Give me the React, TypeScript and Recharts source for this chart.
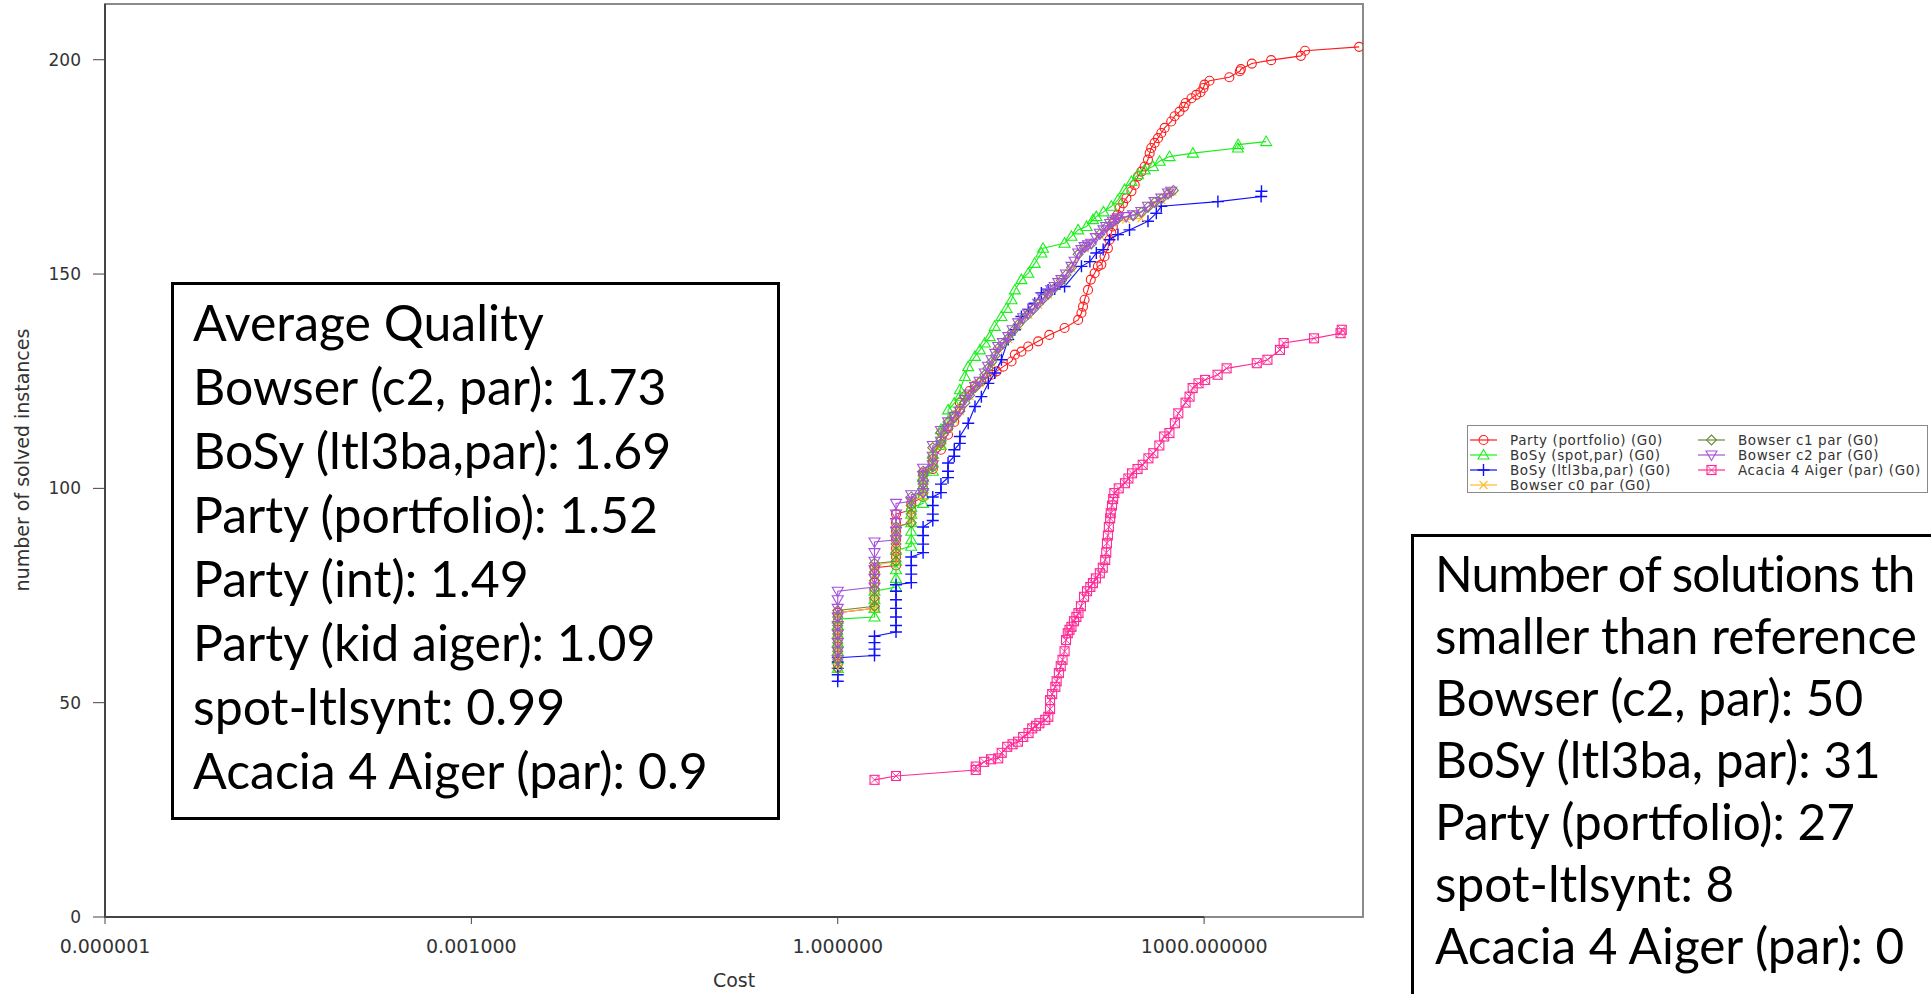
import React from 'react';
import { ScatterChart, Scatter, XAxis, YAxis, ReferenceArea, ReferenceLine } from 'recharts';

type Pt = [number, number];

// [cost, number of solved instances]
const partyPortfolio: Pt[] = [
  [1, 59], [1, 61], [1, 63], [1, 65], [1, 67], [1, 69], [1, 71],
  [2, 72], [2, 74], [2, 76], [2, 78], [2, 80], [2, 81.5],
  [3, 82], [3, 84], [3, 86], [3, 88], [3, 90], [3, 92], [3, 94],
  [4, 95], [4, 96.5], [5, 98], [5, 100], [5, 102], [5, 103.5],
  [6, 104.5], [6, 106], [6, 107.5], [7, 109], [7, 111], [8, 112.5], [8, 114],
  [9, 115.5], [9, 117], [10, 118.5], [10, 120], [11, 121.5], [12, 122.7], [13.3, 124],
  [15, 125], [16.5, 125.8], [18.2, 126.5], [20, 127.3], [22.6, 128.4], [26.5, 129.6],
  [28.2, 131.2], [31.9, 131.9], [36.3, 133.1], [43.8, 134.3], [54, 135.8], [72, 137.4],
  [93, 139.3], [99, 140.9], [102, 142.4], [105, 144], [112, 146.3], [118, 148.7],
  [127, 150.2], [135, 151.8], [144, 152.2], [153, 154.1], [163, 156], [168, 158],
  [174, 159.6], [179, 161.1], [185, 162.7], [195, 163.8], [203, 165.4], [217, 166.5],
  [231, 167.7], [254, 169.3], [270, 170.8], [288, 172.8], [306, 173.9], [326, 175.1],
  [347, 176.7], [358, 178.2], [369, 179.4], [393, 180.6], [419, 181.7], [446, 182.9],
  [475, 184.1], [538, 185.6], [573, 186.8], [629, 187.9], [684, 189], [705, 189.9],
  [788, 191], [861, 191.8], [934, 192.4], [988, 193.4], [1007, 194.2], [1107, 195.1],
  [1610, 195.9], [1960, 197.3], [2000, 197.8], [2460, 199.1], [3540, 199.9],
  [6200, 200.9], [6700, 202.1], [18600, 203],
];

const bosySpot: Pt[] = [
  [1, 58], [1, 60], [1, 62], [1, 64], [1, 66], [1, 68], [1, 69.5],
  [2, 70], [2, 72], [2, 74], [2, 76],
  [3, 77], [3, 79], [3, 81], [3, 83], [3, 85.5],
  [4, 86.5], [4, 88], [4, 90], [4, 92], [4, 94], [4, 95.5],
  [5, 96.5], [5, 98.5], [5, 100.5], [5, 102.5], [6, 104], [6, 106], [6, 108],
  [7, 110], [7, 112], [7, 113.7], [8, 115.5], [8, 118.3], [9, 119.9], [10, 121.5], [10, 123],
  [11, 126.1], [11.7, 128.4], [13.3, 130.8], [14.6, 132.3], [16, 133.9], [17.6, 135.4],
  [19.3, 137.8], [21.9, 140.1], [24.1, 142], [26.5, 144], [28.2, 146.3], [31.9, 148.7],
  [36.3, 150.2], [41, 152.5], [46.5, 154.9], [48, 156], [72, 157.2], [82, 158.8],
  [93, 160.3], [109, 161.1], [123, 162.7], [131, 163.4], [150, 164.5], [174, 165.8],
  [197, 167.3], [223, 169.7], [254, 171.6], [288, 173.2], [326, 174.3], [381, 175.1],
  [432, 176.3], [521, 177.4], [809, 178.2], [1890, 179.4], [1900, 180.2], [3220, 180.9],
];

const bosyLtl3ba: Pt[] = [
  [1, 55], [1, 56.5], [1, 58], [1, 59.5], [1, 60.5],
  [2, 61], [2, 62.5], [2, 64], [2, 65.5],
  [3, 66.5], [3, 68], [3, 70], [3, 72], [3, 74], [3, 76], [3, 77.5],
  [4, 78], [4, 80], [4, 82], [4, 84], [5, 85], [5, 87], [5, 89], [5, 91],
  [6, 92.5], [6, 94], [6, 96], [6, 98], [7, 99], [7, 101], [8, 102.5], [8, 104], [8, 105.9],
  [9, 107.5], [9, 109], [10, 110.5], [10, 112.1], [11.7, 115.2], [13.3, 119.1], [15, 121.4],
  [17.1, 124.5], [19.3, 126.9], [21.9, 130], [24.9, 134.7], [28.2, 137], [31.9, 140.1],
  [36.3, 141.7], [41, 143.2], [46.5, 145.6], [52.8, 146.3], [59.8, 146.5], [72, 147.1],
  [99, 151.8], [116, 152.9], [131, 154.9], [149, 155.7], [168, 158], [197, 159.2],
  [245, 160.3], [347, 162.3], [406, 164.2], [446, 165.8], [1297, 166.9], [2930, 168.1],
  [2950, 169.3],
];

const bowserC0: Pt[] = [
  [1, 58], [1, 60], [1, 62], [1, 64], [1, 66], [1, 68], [1, 70], [1, 71],
  [2, 72], [2, 74], [2, 76], [2, 78], [2, 80], [2, 82],
  [3, 83], [3, 85], [3, 87], [3, 89], [3, 91], [4, 92], [4, 94], [4, 97],
  [5, 98], [5, 100], [5, 102], [5, 104], [6, 105], [6, 107], [6, 109], [7, 110], [7, 113],
  [8, 114], [8, 115], [9, 116], [10, 118], [12, 121.5], [14.5, 124.5], [18.2, 129.3],
  [20.6, 132.5], [24.9, 134.8], [30, 138], [36.3, 140.5], [43.8, 142.8], [52.8, 145.2],
  [67.9, 148.3], [82, 151.3], [105, 156], [140, 159.1], [179, 161.9], [230, 162.7],
  [306, 163], [393, 166.5], [446, 167.3], [506, 168.5], [550, 169.3],
];

const bowserC1: Pt[] = [
  [1, 58], [1, 60], [1, 62], [1, 64], [1, 66], [1, 68], [1, 70], [1, 71.5],
  [2, 72.5], [2, 74.5], [2, 76.5], [2, 78.5], [2, 80.5], [2, 82.5],
  [3, 83], [3, 85], [3, 87], [3, 89], [3, 91], [4, 92], [4, 94], [4, 96], [4, 98],
  [5, 99], [5, 101], [5, 103], [5, 104], [6, 105], [6, 107], [6, 109.5], [7, 110.5], [7, 113],
  [8, 114], [8, 115.5], [9, 116.5], [10, 118], [11, 120], [12, 121.7], [13.3, 123.5],
  [14.5, 124.7], [16, 126.5], [17, 128], [18.2, 129.5], [19.5, 131], [20.6, 132.7],
  [22.5, 133.7], [24.9, 135], [27, 136.6], [30, 138.2], [33, 139.5], [36.3, 140.6],
  [40, 141.8], [43.8, 143], [48, 144.2], [52.8, 145.3], [59.8, 146.8], [67.9, 148.5],
  [74, 149.8], [82, 151.5], [93, 154.6], [105, 156.2], [119, 157], [140, 159.3],
  [158, 160.9], [179, 162.1], [197, 162.9], [262, 163.6], [306, 164.4], [347, 165.6],
  [393, 166.7], [446, 167.5], [506, 168.7], [560, 169.5],
];

const bowserC2: Pt[] = [
  [1, 60], [1, 62], [1, 64], [1, 66], [1, 68], [1, 70], [1, 72], [1, 74], [1, 76],
  [2, 77], [2, 79], [2, 81], [2, 83], [2, 85], [2, 87.5],
  [3, 88], [3, 90], [3, 92], [3, 94], [3, 96.5], [4, 97], [4, 98.5],
  [5, 99], [5, 101], [5, 103], [5, 104.7], [6, 105.5], [6, 107.5], [6, 110],
  [7, 111], [7, 113.5], [8, 114], [8, 115.5], [9, 116.8], [10, 118], [11, 120.7],
  [12, 122], [13.3, 123.8], [14.5, 125], [16, 126.9], [17, 128.5], [18.2, 130],
  [19.5, 131.5], [20.6, 133.1], [22.5, 134], [24.9, 135.4], [27, 137], [30, 138.6],
  [33, 139.8], [36.3, 140.9], [40, 142], [43.8, 143.2], [48, 144.4], [52.8, 145.6],
  [56, 146.3], [59.8, 147.1], [64, 148], [67.9, 148.7], [74, 150], [82, 151.8],
  [87, 153], [93, 154.9], [99, 155.7], [105, 156.4], [112, 156.8], [119, 157.2],
  [130, 158.5], [140, 159.5], [150, 160.3], [158, 161.1], [170, 161.8], [179, 162.3],
  [190, 162.8], [197, 163.1], [230, 163.4], [262, 163.8], [306, 164.6], [347, 165.8],
  [393, 166.9], [446, 167.7], [506, 168.9], [538, 169.3],
];

const acaciaAiger: Pt[] = [
  [2, 32], [3, 32.9], [13.5, 34.3], [13.5, 35.1], [15.8, 36.2], [18, 36.8], [20.6, 37],
  [22, 38.3], [24.4, 39.7], [27, 40.3], [29.9, 40.9], [33, 42], [36.5, 42.9], [39.1, 44],
  [42, 44.6], [44.8, 45.2], [50, 46], [53, 46.7], [54.8, 48.5], [54.8, 50.6], [57, 52],
  [60.5, 53.7], [62, 55], [64.7, 56.9], [67, 58.5], [69.3, 60], [72, 62], [74, 64.6],
  [76.5, 66.2], [79, 67], [82, 67.7], [86, 69], [90, 70], [93.6, 70.9], [98, 72.5],
  [104, 74.7], [110, 76], [117, 77], [123, 77.9], [130, 79], [140, 80.2], [148, 81.5],
  [155, 83.3], [158, 85], [160, 87.2], [163, 89], [166, 91], [170, 93], [172, 94.2],
  [176, 96], [180, 97.5], [184, 98.9], [200, 100], [225, 101.2], [240, 102.3],
  [257, 103.5], [285, 104.5], [314, 105.5], [350, 107], [384, 108.2], [430, 110],
  [471, 112.1], [520, 112.9], [576, 115.2], [615, 117.5], [705, 120], [760, 121.4],
  [806, 123.4], [900, 124.5], [1019, 125.3], [1289, 126.5], [1528, 128], [2700, 129.2],
  [3300, 130], [4180, 132.3], [4480, 133.9], [7940, 135], [13100, 136.2], [13400, 137],
];

const xTicks = [0.000001, 0.001, 1, 1000];
const yTicks = [0, 50, 100, 150, 200];

const qualityLines = [
  'Average Quality',
  'Bowser (c2, par): 1.73',
  'BoSy (ltl3ba,par): 1.69',
  'Party (portfolio): 1.52',
  'Party (int): 1.49',
  'Party (kid aiger): 1.09',
  'spot-ltlsynt: 0.99',
  'Acacia 4 Aiger (par): 0.9',
];

const smallerLines = [
  'Number of solutions th',
  'smaller than reference',
  'Bowser (c2, par): 50',
  'BoSy (ltl3ba, par): 31',
  'Party (portfolio): 27',
  'spot-ltlsynt: 8',
  'Acacia 4 Aiger (par): 0',
];

type Kind = 'circle' | 'triangle' | 'plus' | 'cross' | 'diamond' | 'down' | 'boxx';

const series: { name: string; color: string; kind: Kind; data: Pt[] }[] = [
  { name: 'Party (portfolio) (G0)', color: '#ff1a1a', kind: 'circle', data: partyPortfolio },
  { name: 'BoSy (spot,par) (G0)', color: '#19f019', kind: 'triangle', data: bosySpot },
  { name: 'BoSy (ltl3ba,par) (G0)', color: '#1010ff', kind: 'plus', data: bosyLtl3ba },
  { name: 'Bowser c0 par (G0)', color: '#ffb92e', kind: 'cross', data: bowserC0 },
  { name: 'Bowser c1 par (G0)', color: '#6f8a3a', kind: 'diamond', data: bowserC1 },
  { name: 'Bowser c2 par (G0)', color: '#a550dd', kind: 'down', data: bowserC2 },
  { name: 'Acacia 4 Aiger (par) (G0)', color: '#ff2a95', kind: 'boxx', data: acaciaAiger },
];

function marker(kind: Kind, color: string, cx: number, cy: number, key?: string) {
  const sw = 1.1;
  switch (kind) {
    case 'circle':
      return <circle key={key} cx={cx} cy={cy} r={4.5} fill="none" stroke={color} strokeWidth={sw} />;
    case 'triangle':
      return (
        <polygon key={key} points={`${cx},${cy - 5.5} ${cx - 5.5},${cy + 4} ${cx + 5.5},${cy + 4}`}
          fill="none" stroke={color} strokeWidth={sw} />
      );
    case 'plus':
      return (
        <path key={key} d={`M${cx - 6},${cy}H${cx + 6}M${cx},${cy - 6}V${cy + 6}`} stroke={color} strokeWidth={1.4} fill="none" />
      );
    case 'cross':
      return (
        <path key={key} d={`M${cx - 4},${cy - 4}L${cx + 4},${cy + 4}M${cx - 4},${cy + 4}L${cx + 4},${cy - 4}`} stroke={color} strokeWidth={sw} fill="none" />
      );
    case 'diamond':
      return (
        <polygon key={key} points={`${cx},${cy - 5} ${cx + 5},${cy} ${cx},${cy + 5} ${cx - 5},${cy}`}
          fill="none" stroke={color} strokeWidth={sw} />
      );
    case 'down':
      return (
        <polygon key={key} points={`${cx - 5.5},${cy - 4} ${cx + 5.5},${cy - 4} ${cx},${cy + 5.5}`}
          fill="none" stroke={color} strokeWidth={sw} />
      );
    case 'boxx':
    default:
      return (
        <g key={key}>
          <rect x={cx - 4.5} y={cy - 4.5} width={9} height={9} fill="none" stroke={color} strokeWidth={sw} />
          <path d={`M${cx - 4.5},${cy - 4.5}L${cx + 4.5},${cy + 4.5}M${cx - 4.5},${cy + 4.5}L${cx + 4.5},${cy - 4.5}`} stroke={color} strokeWidth={0.9} />
        </g>
      );
  }
}

const makeShape = (kind: Kind, color: string) => (props: any) => {
  const { cx, cy } = props;
  if (cx == null || cy == null) return <g />;
  return marker(kind, color, cx, cy);
};

const XTick = (props: any) => {
  const { x, y, payload } = props;
  return (
    <text x={x} y={y + 15} textAnchor="middle" fontFamily="DejaVu Sans" fontSize={19} fill="#333">
      {Number(payload.value).toFixed(6)}
    </text>
  );
};

const YTick = (props: any) => {
  const { x, y, payload } = props;
  return (
    <text x={x} y={y} dy={6} textAnchor="end" fontFamily="DejaVu Sans" fontSize={17} fill="#333">
      {payload.value}
    </text>
  );
};

const W = 1931;
const H = 994;

const LegendItem = ({ s }: { s: (typeof series)[number] }) => (
  <div style={{ display: 'flex', alignItems: 'center', height: 15 }}>
    <svg width={27} height={14} style={{ flex: 'none' }}>
      <line x1={0} y1={7} x2={27} y2={7} stroke={s.color} strokeWidth={1.2} />
      {marker(s.kind, s.color, 13.5, 7)}
    </svg>
    <span style={{ marginLeft: 13, whiteSpace: 'nowrap' }}>{s.name}</span>
  </div>
);

export default function App() {
  const col1 = series.slice(0, 4);
  const col2 = series.slice(4);
  return (
    <div style={{ position: 'absolute', left: 0, top: 0, width: W, height: H, overflow: 'hidden', background: '#fff' }}>
      <ScatterChart width={W} height={H} margin={{ top: 4, right: 568, bottom: 37, left: 45 }}>
        <XAxis
          type="number"
          dataKey="x"
          scale="log"
          domain={[0.000001, 20000]}
          allowDataOverflow
          ticks={xTicks}
          interval={0}
          tick={<XTick />}
          tickSize={7}
          tickMargin={14}
          axisLine={false}
          tickLine={{ stroke: '#444' }}
          height={40}
        />
        <YAxis
          type="number"
          dataKey="y"
          domain={[0, 213]}
          allowDataOverflow
          ticks={yTicks}
          interval={0}
          width={60}
          tick={<YTick />}
          tickSize={12}
          tickMargin={12}
          axisLine={{ stroke: '#444', strokeWidth: 2 }}
          tickLine={{ stroke: '#444' }}
        />
        <ReferenceArea x1={0.000001} x2={20000} y1={0} y2={213} fill="none" stroke="#8a8a8a" strokeWidth={2} ifOverflow="visible" />
        <ReferenceLine segment={[{ x: 0.000001, y: 0 }, { x: 1000, y: 0 }]} stroke="#444" strokeWidth={2} ifOverflow="visible" />
        {series.map((s) => (
          <Scatter
            key={s.name}
            name={s.name}
            data={s.data.map(([x, y]) => ({ x, y }))}
            line={{ stroke: s.color, strokeWidth: 1.1 }}
            lineType="joint"
            shape={makeShape(s.kind, s.color)}
            isAnimationActive={false}
          />
        ))}
      </ScatterChart>

      {/* axis titles */}
      <div style={{ position: 'absolute', left: 22, top: 460, transform: 'translate(-50%, -50%) rotate(-90deg)', whiteSpace: 'nowrap', fontFamily: 'DejaVu Sans', fontSize: 19, color: '#333' }}>
        number of solved instances
      </div>
      <div style={{ position: 'absolute', left: 734, top: 980, transform: 'translate(-50%, -50%)', whiteSpace: 'nowrap', fontFamily: 'DejaVu Sans', fontSize: 19, lineHeight: '22px', color: '#333' }}>
        Cost
      </div>

      {/* legend */}
      <div style={{ position: 'absolute', left: 1467, top: 425, width: 461, height: 68, boxSizing: 'border-box', border: '1px solid #8a8a8a', background: '#fff', fontFamily: 'DejaVu Sans', fontSize: 13.5, letterSpacing: 0.6, color: '#333', display: 'flex', paddingTop: 6, paddingLeft: 2 }}>
        <div style={{ width: 228 }}>
          {col1.map((s) => <LegendItem key={s.name} s={s} />)}
        </div>
        <div>
          {col2.map((s) => <LegendItem key={s.name} s={s} />)}
        </div>
      </div>

      {/* annotation boxes */}
      <div style={{ position: 'absolute', left: 171, top: 282, width: 609, height: 538, boxSizing: 'border-box', border: '3px solid #000', background: '#fff', paddingLeft: 19, paddingTop: 5, fontFamily: 'Lato', fontSize: 50, lineHeight: '64px', color: '#000' }}>
        {qualityLines.map((t) => <div key={t} style={{ whiteSpace: 'nowrap' }}>{t}</div>)}
      </div>
      <div style={{ position: 'absolute', left: 1411, top: 534, width: 700, height: 600, boxSizing: 'border-box', border: '3px solid #000', background: '#fff', paddingLeft: 21, paddingTop: 5, fontFamily: 'Lato', fontSize: 49.5, lineHeight: '62px', color: '#000' }}>
        {smallerLines.map((t, i) => (
          <div key={t} style={{ whiteSpace: 'nowrap', letterSpacing: i === 0 ? -0.9 : 0 }}>{t}</div>
        ))}
      </div>
    </div>
  );
}
